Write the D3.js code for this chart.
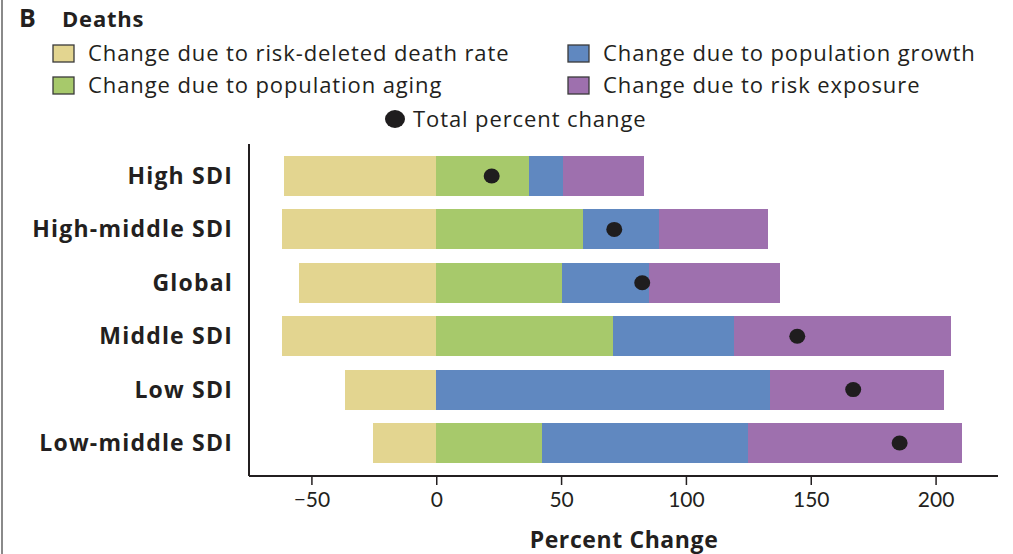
<!DOCTYPE html>
<html>
<head>
<meta charset="utf-8">
<script src="https://cdn.jsdelivr.net/npm/d3@7"></script>
<style>
  html, body { margin: 0; padding: 0; background: #fff; }
  svg { display: block; }
  text { fill: #231f20; }
</style>
</head>
<body>
<svg id="chart" width="1013" height="554"></svg>
<script>
// Regions, top to bottom
const categories = ["High SDI", "High-middle SDI", "Global", "Middle SDI", "Low SDI", "Low-middle SDI"];

// Decomposition of the percent change in deaths (percentage points)
const riskDeletedRate = [-61.0, -61.7, -55.0, -61.7, -36.6, -25.2];
const populationAging = [37.0, 58.8, 50.2, 70.9, 0.0, 42.2];
const populationGrowth = [13.6, 30.3, 35.1, 48.4, 133.6, 82.6];
const riskExposure = [32.6, 43.8, 52.3, 86.8, 69.9, 85.9];
const totalChange = [22.2, 71.3, 82.5, 144.6, 167.0, 185.6];

const seriesNames = [
  "Change due to risk-deleted death rate",
  "Change due to population aging",
  "Change due to population growth",
  "Change due to risk exposure"
];
const seriesColors = ["#e3d590", "#a7c96b", "#6088c0", "#9e70ae"];
const xTicks = [-50, 0, 50, 100, 150, 200];

const svg = d3.select("#chart");
const W = 1013, H = 554;
const FONT = "'Open Sans', sans-serif";

// Frame line along the left edge
svg.append("line")
  .attr("x1", 2).attr("x2", 2).attr("y1", 0).attr("y2", H)
  .attr("stroke", "#8a8a8a").attr("stroke-width", 2);

// Panel title
svg.append("text").attr("x", 19).attr("y", 27)
  .style("font-family", FONT).style("font-weight", 700).style("font-size", "25px")
  .text("B");
svg.append("text").attr("x", 62).attr("y", 27)
  .style("font-family", FONT).style("font-weight", 700).style("font-size", "22px")
  .style("letter-spacing", "0.8px")
  .text("Deaths");

// Scales
const x = d3.scaleLinear().domain([-75, 225]).range([249, 998]);
const y = d3.scaleBand().domain(categories).range([149.3, 469.7])
  .paddingInner(0.25).paddingOuter(0.125);

// Stack: negative part from 0 leftwards, positive parts from 0 rightwards
const seriesValues = [riskDeletedRate, populationAging, populationGrowth, riskExposure];
const segments = [];
categories.forEach((c, i) => {
  let pos = 0, neg = 0;
  seriesValues.forEach((vals, s) => {
    const v = vals[i];
    let x0, x1;
    if (v >= 0) { x0 = pos; x1 = pos + v; pos = x1; }
    else { x1 = neg; x0 = neg + v; neg = x0; }
    segments.push({ cat: c, s, x0, x1 });
  });
});

svg.append("g").selectAll("rect")
  .data(segments.filter(d => d.x1 - d.x0 > 0))
  .join("rect")
  .attr("x", d => x(d.x0))
  .attr("width", d => x(d.x1) - x(d.x0))
  .attr("y", d => y(d.cat))
  .attr("height", y.bandwidth())
  .attr("fill", d => seriesColors[d.s])
  .attr("shape-rendering", "crispEdges");

// Total percent change markers
svg.append("g").selectAll("ellipse")
  .data(categories)
  .join("ellipse")
  .attr("cx", (c, i) => x(totalChange[i]))
  .attr("cy", c => y(c) + y.bandwidth() / 2)
  .attr("rx", 8).attr("ry", 7.5)
  .attr("fill", "#1f1d1e");

// Category labels
svg.append("g").selectAll("text")
  .data(categories)
  .join("text")
  .attr("x", 233)
  .attr("y", c => y(c) + y.bandwidth() / 2)
  .attr("dy", "0.35em")
  .attr("text-anchor", "end")
  .style("font-family", FONT).style("font-weight", 700).style("font-size", "23px")
  .style("letter-spacing", "1.2px")
  .text(c => c);

// Axes
const axisY = 476;
svg.append("line")
  .attr("x1", x.range()[0]).attr("x2", x.range()[0])
  .attr("y1", 144).attr("y2", axisY)
  .attr("stroke", "#231f20").attr("stroke-width", 2);

const xAxis = svg.append("g")
  .attr("transform", `translate(0,${axisY})`)
  .call(d3.axisBottom(x).tickValues(xTicks).tickSize(9).tickPadding(7)
    .tickFormat(d => d < 0 ? "\u2212" + Math.abs(d) : String(d)));
xAxis.select(".domain").attr("stroke", "#231f20").attr("stroke-width", 2)
  .attr("d", `M${x.range()[0]},0H${x.range()[1]}`);
xAxis.selectAll(".tick line").attr("stroke", "#231f20").attr("stroke-width", 1.5);
xAxis.selectAll(".tick text")
  .style("font-family", "Lato, sans-serif").style("font-size", "21px").attr("fill", "#231f20");

svg.append("text")
  .attr("x", 624).attr("y", 548)
  .attr("text-anchor", "middle")
  .style("font-family", FONT).style("font-weight", 700).style("font-size", "23px")
  .style("letter-spacing", "0.6px")
  .text("Percent Change");

// Legend
const legendItems = [
  { i: 0, x: 53, y: 45 },
  { i: 2, x: 568, y: 45 },
  { i: 1, x: 53, y: 77 },
  { i: 3, x: 568, y: 77 }
];
const lg = svg.append("g");
legendItems.forEach(d => {
  lg.append("rect")
    .attr("x", d.x).attr("y", d.y).attr("width", 21).attr("height", 17)
    .attr("fill", seriesColors[d.i]).attr("stroke", "#3a3a3a").attr("stroke-width", 1.3);
  lg.append("text")
    .attr("x", d.x + 35).attr("y", d.y + 8).attr("dy", "0.35em")
    .style("font-family", FONT).style("font-size", "22px")
    .style("letter-spacing", "0.9px")
    .text(seriesNames[d.i]);
});
lg.append("ellipse").attr("cx", 395).attr("cy", 119).attr("rx", 10).attr("ry", 9).attr("fill", "#1f1d1e");
lg.append("text")
  .attr("x", 413).attr("y", 119).attr("dy", "0.35em")
  .style("font-family", FONT).style("font-size", "22px")
  .style("letter-spacing", "0.9px")
  .text("Total percent change");
</script>
</body>
</html>
